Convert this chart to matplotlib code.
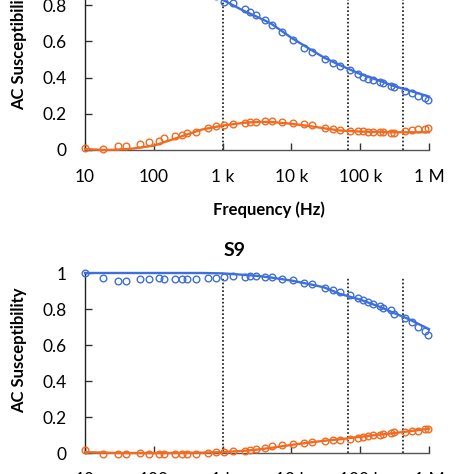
import matplotlib
matplotlib.use("Agg")
import matplotlib.pyplot as plt
import numpy as np

plt.rcParams['font.family'] = ['Lato', 'DejaVu Sans']

# Measurement frequencies (Hz), shared by both panels
freq = [10, 18, 30, 40, 62, 86, 118, 142, 203, 254, 300, 410, 615, 800,
        1040, 1430, 2130, 2520, 3080, 4170, 5160, 7200, 10600, 15200, 20000,
        30600, 40500, 51000, 71000, 94000, 111000, 132000, 156000, 191000,
        218000, 278000, 311000, 448000, 560000, 697000, 871000, 955000]

# Top panel (partly cropped): real part (blue) and imaginary part (orange)
top_real = [1.0, 0.99, 0.985, 0.98, 0.975, 0.97, 0.96, 0.955, 0.94, 0.93,
            0.92, 0.90, 0.87, 0.85,
            0.82, 0.81, 0.778, 0.763, 0.744, 0.717, 0.693, 0.653, 0.607,
            0.566, 0.539, 0.502, 0.478, 0.465, 0.441, 0.419, 0.404, 0.393,
            0.384, 0.377, 0.371, 0.353, 0.346, 0.327, 0.316, 0.300, 0.285,
            0.279]
top_imag = [0.013, 0.004, 0.024, 0.024, 0.033, 0.044, 0.050, 0.066, 0.077,
            0.085, 0.092, 0.099, 0.121, 0.130, 0.138, 0.143, 0.151, 0.154,
            0.154, 0.160, 0.160, 0.154, 0.151, 0.143, 0.136, 0.121, 0.114,
            0.112, 0.107, 0.103, 0.103, 0.099, 0.097, 0.097, 0.097, 0.092,
            0.096, 0.105, 0.108, 0.116, 0.118, 0.120]

# Bottom panel (S9)
s9_real = [1.0, 0.972, 0.957, 0.957, 0.969, 0.969, 0.972, 0.965, 0.965,
           0.969, 0.965, 0.965, 0.970, 0.974, 0.976, 0.981, 0.980, 0.981,
           0.981, 0.980, 0.978, 0.967, 0.959, 0.946, 0.937, 0.917, 0.906,
           0.894, 0.878, 0.859, 0.848, 0.837, 0.828, 0.815, 0.806, 0.793,
           0.774, 0.750, 0.726, 0.698, 0.676, 0.657]
s9_imag = [0.015, -0.005, -0.004, -0.004, -0.002, -0.004, -0.005, -0.005,
           -0.005, -0.005, -0.004, -0.005, 0.0, 0.004, 0.006, 0.011, 0.013,
           0.019, 0.020, 0.030, 0.037, 0.046, 0.052, 0.054, 0.061, 0.069,
           0.070, 0.074, 0.078, 0.083, 0.089, 0.093, 0.098, 0.102, 0.106,
           0.111, 0.117, 0.115, 0.120, 0.124, 0.135, 0.133]

# Fitted curves
fit_freq = [10, 20, 30, 50, 100, 200, 300, 500, 1000, 2000, 3000, 5000,
            10000, 20000, 30000, 50000, 100000, 200000, 300000, 500000, 1000000]
top_real_fit = [1.0, 0.995, 0.99, 0.985, 0.97, 0.94, 0.92, 0.88, 0.83, 0.77,
                0.74, 0.70, 0.62, 0.55, 0.51, 0.47, 0.42, 0.38, 0.355, 0.33,
                0.295]
top_imag_fit = [0.005, 0.0, 0.002, 0.008, 0.024, 0.062, 0.085, 0.113, 0.135,
                0.15, 0.155, 0.155, 0.145, 0.13, 0.12, 0.108, 0.102, 0.099,
                0.098, 0.098, 0.098]
s9_real_fit = [1.0, 1.0, 1.0, 1.0, 1.0, 1.0, 1.0, 1.0, 0.998, 0.99, 0.985,
               0.975, 0.958, 0.935, 0.92, 0.885, 0.852, 0.81, 0.78, 0.745,
               0.688]
s9_imag_fit = [0.005, 0.002, 0.0, 0.0, 0.0, 0.0, 0.001, 0.002, 0.005, 0.012,
               0.018, 0.028, 0.045, 0.06, 0.068, 0.076, 0.09, 0.103, 0.11,
               0.12, 0.135]

# Vertical reference lines (Hz)
vlines = [1000, 66000, 425000]

xticks = [10, 100, 1000, 10000, 100000, 1000000]
xticklabels = ['10', '100', '1 k', '10 k', '100 k', '1 M']
yticks = [0, 0.2, 0.4, 0.6, 0.8, 1.0]
yticklabels = ['0', '0.2', '0.4', '0.6', '0.8', '1']

BLUE = '#3f6fd8'
ORANGE = '#f26b22'

fig = plt.figure(figsize=(4.74, 4.74), dpi=100)
W = H = 474.0
left = 85 / W
width = 344 / W
ax1 = fig.add_axes([left, (H - 150) / H, width, 181 / H])
ax2 = fig.add_axes([left, (H - 453) / H, width, 180 / H])


def style(ax):
    ax.set_xscale('log')
    ax.set_xlim(10, 1e6)
    ax.set_ylim(0, 1)
    for s in ['top', 'right']:
        ax.spines[s].set_visible(False)
    ax.spines['left'].set_color('#222222')
    ax.spines['bottom'].set_color('#555555')
    ax.spines['left'].set_linewidth(1.0)
    ax.spines['bottom'].set_linewidth(1.0)
    ax.set_xticks(xticks)
    ax.set_xticklabels(xticklabels)
    ax.xaxis.set_minor_locator(matplotlib.ticker.NullLocator())
    ax.set_yticks(yticks)
    ax.set_yticklabels(yticklabels)
    ax.tick_params(axis='x', direction='in', length=5, width=1,
                   color='#333333', pad=14, labelsize=12.5)
    ax.tick_params(axis='y', direction='in', length=5, width=1,
                   color='#333333', pad=13, labelsize=12.5)
    for v in vlines:
        ax.axvline(v, ymin=0, ymax=0.98, color='#111111', lw=1.2,
                   ls=(0, (1, 1.3)), zorder=1)
    ax.set_ylabel('AC Susceptibility', fontsize=12, fontweight='bold')


def draw(ax, re, im, re_fit, im_fit):
    ax.plot(fit_freq, re_fit, color=BLUE, lw=1.7, zorder=3, clip_on=False)
    ax.plot(fit_freq, im_fit, color=ORANGE, lw=1.7, zorder=3, clip_on=False)
    ax.plot(freq, re, ls='none', marker='o', ms=4.8, mfc='none',
            mec=BLUE, mew=1.0, zorder=4, clip_on=False)
    ax.plot(freq, im, ls='none', marker='o', ms=4.8, mfc='none',
            mec=ORANGE, mew=1.0, zorder=4, clip_on=False)


style(ax1)
draw(ax1, top_real, top_imag, top_real_fit, top_imag_fit)
ax1.set_xlabel('Frequency (Hz)', fontsize=12, fontweight='bold')
ax1.xaxis.set_label_coords((269 - 85) / 344, -(201 - 150) / 181)
ax1.yaxis.set_label_coords(-(85 - 27) / 344, 0.565)

style(ax2)
draw(ax2, s9_real, s9_imag, s9_real_fit, s9_imag_fit)
ax2.yaxis.set_label_coords(-(85 - 27) / 344, 0.572)
ax2.text((235 - 85) / 344, 1 + (273 - 251) / 180, 'S9', transform=ax2.transAxes,
         ha='center', va='center', fontsize=14, fontweight='bold')

fig.savefig('out.png', dpi=100)
